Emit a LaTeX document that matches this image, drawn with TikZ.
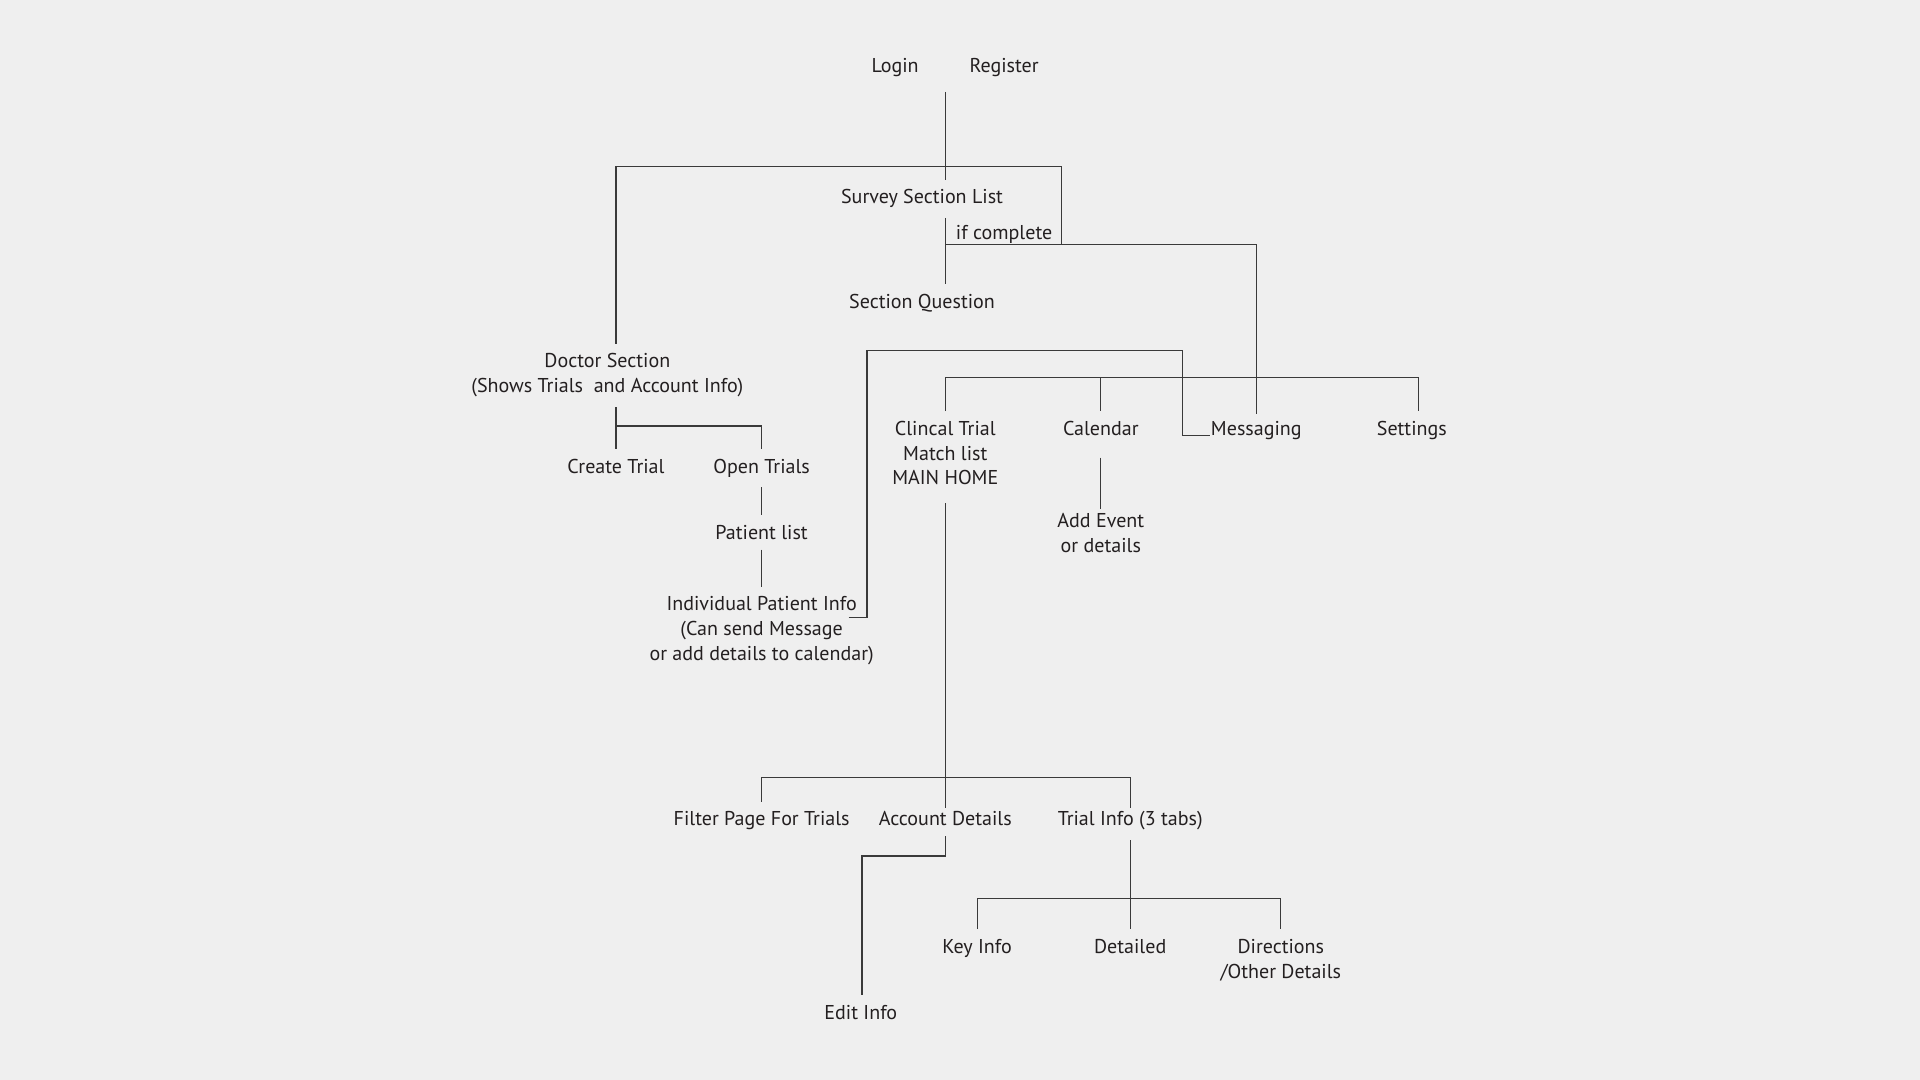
\documentclass[tikz,border=0pt]{standalone}
\usepackage{fontspec}
\setmainfont{PT Sans}
\usepackage{xcolor}
\usepackage{tikz}
\definecolor{bgcol}{HTML}{EFEFEF}
\definecolor{inkcol}{HTML}{231F20}
\definecolor{wirecol}{HTML}{3A3A3A}
\tikzstyle{screen} = [font=\fontsize{5.7}{7.05}\selectfont, text=inkcol, align=center, inner sep=0pt, outer ysep=1mm]
\tikzstyle{wire} = [draw=wirecol, line width=0.35pt]

\begin{document}
\begin{tikzpicture}[x=0.12245mm, y=-0.12245mm]

\fill[bgcol] (0,0) rectangle (1568,882);

\node (login) [screen, anchor=base] at (731,59) {Login};
\node (register) [screen, anchor=base] at (820,59) {Register};
\node (survey) [screen, anchor=base] at (753,166.5) {Survey Section List};
\node (complete) [screen, anchor=base] at (820,195.5) {if complete};
\node (question) [screen, anchor=base] at (753,252) {Section Question};
\node (doctor) [screen] at (496,306.5) {Doctor Section\\(Shows Trials\ \ and Account Info)};
\node (create) [screen, anchor=base] at (503,386.5) {Create Trial};
\node (open) [screen, anchor=base] at (622,386.5) {Open Trials};
\node (patients) [screen, anchor=base] at (622,440.5) {Patient list};
\node (patient) [screen] at (622,515) {Individual Patient Info\\(Can send Message\\or add details to calendar)};
\node (matches) [screen] at (772,370) {Clincal Trial\\Match list\\MAIN HOME};
\node (calendar) [screen, anchor=base] at (899,355.5) {Calendar};
\node (messaging) [screen, anchor=base] at (1026,355.5) {Messaging};
\node (settings) [screen, anchor=base] at (1153,355.5) {Settings};
\node (event) [screen] at (899,435) {Add Event\\or details};
\node (filter) [screen, anchor=base] at (622,674.5) {Filter Page For Trials};
\node (account) [screen, anchor=base] at (772,674.5) {Account Details};
\node (trialinfo) [screen, anchor=base] at (923,674.5) {Trial Info (3 tabs)};
\node (keyinfo) [screen, anchor=base] at (798,778.5) {Key Info};
\node (detailed) [screen, anchor=base] at (923,778.5) {Detailed};
\node (directions) [screen] at (1046,784) {Directions\\/Other Details};
\node (edit) [screen, anchor=base] at (703,832.5) {Edit Info};

\coordinate (start) at (772,75);
\coordinate (fork) at (867,136);
\coordinate (done) at (772,199.5);
\coordinate (homebar) at (772,308);
\coordinate (docbar) at (503,348);
\coordinate (linkstart) at (693,504);
\coordinate (linkup) at (708,286);
\coordinate (linkover) at (966,286);
\coordinate (listbar) at (772,635);
\coordinate (editbend) at (704,699);
\coordinate (tabbar) at (923,734);

\draw [wire] (start) -- (start |- survey.north);
\draw [wire] (create |- doctor.north) |- (fork) -- (fork |- done);
\draw [wire] (start |- survey.south) -- (start |- question.north);
\draw [wire, shorten >=-0.3mm] (done) -| (messaging.north);
\draw [wire] (matches.north) -- (homebar) -| ([xshift=0.7mm]settings.north);
\draw [wire] (homebar -| calendar) -- (calendar.north);
\draw [wire] (linkstart) -| (linkup) -- (linkover) |- (messaging.base west);
\draw [wire, shorten <=1.2mm, shorten >=-0.6mm] (calendar.south) -- (event.north);

\draw [wire] (doctor.south -| create) -- (create.north);
\draw [wire] (docbar) -| (open.north);
\draw [wire] (open.south) -- (patients.north);
\draw [wire] (patients.south) -- (patient.north);

\draw [wire, shorten <=0.8mm, shorten >=-0.6mm] (matches.south) -- (account.north);
\draw [wire, shorten >=-0.6mm] (filter.north) |- (listbar) -| (trialinfo.north);
\draw [wire] (account.south) |- (editbend) -- (editbend |- edit.north);
\draw [wire] (trialinfo.south) -- (detailed.north);
\draw [wire] (keyinfo.north) |- (tabbar) -| (directions.north);

\end{tikzpicture}
\end{document}
